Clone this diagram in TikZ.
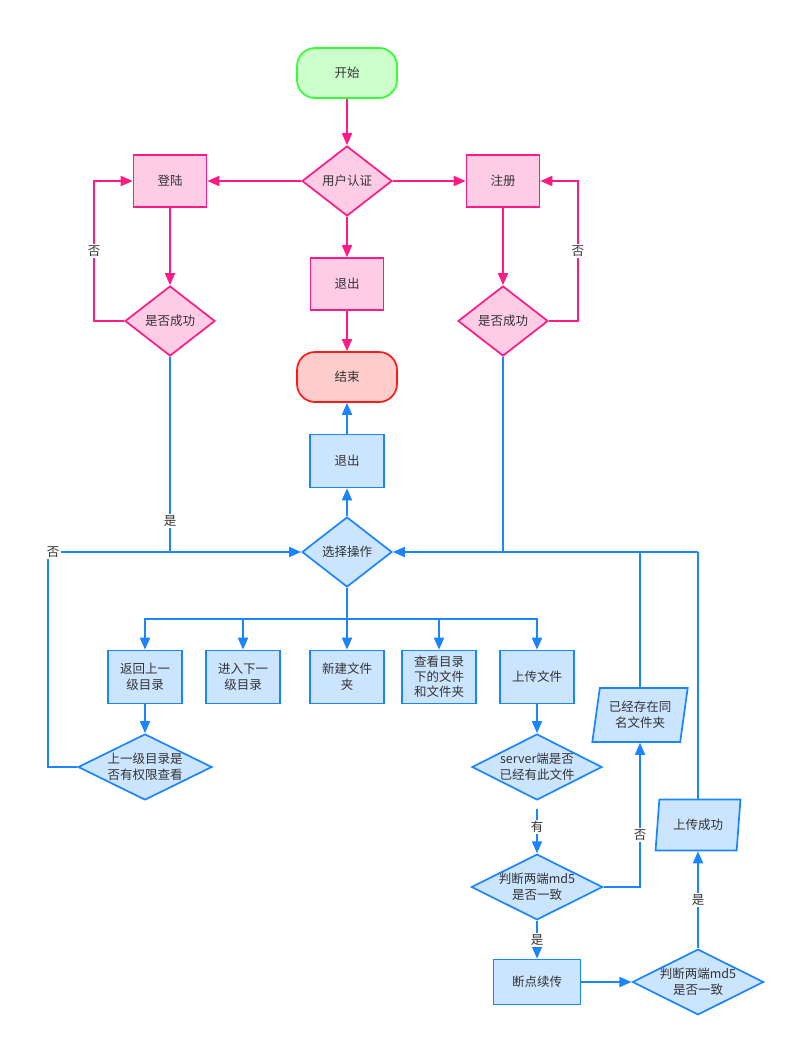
\documentclass[tikz,border=0pt]{standalone}
\usepackage{fontspec}
\setmainfont{Noto Sans CJK SC}
\usetikzlibrary{shapes.geometric,arrows.meta}
\definecolor{pkline}{HTML}{FF1A85}
\definecolor{pkfill}{HTML}{FFCCE6}
\definecolor{blline}{HTML}{1A85FF}
\definecolor{blfill}{HTML}{CCE5FF}
\definecolor{gnline}{HTML}{33FF33}
\definecolor{gnfill}{HTML}{CCFFCC}
\definecolor{rdline}{HTML}{FF1A1A}
\definecolor{rdfill}{HTML}{FFCCCC}
\definecolor{txt}{HTML}{333333}
\tikzset{
  every node/.style={font=\fontsize{12.5}{16}\selectfont, text=txt},
  pkbox/.style={draw=pkline, fill=pkfill, line width=1.7pt, minimum width=73, minimum height=52, inner sep=0},
  blbox/.style={draw=blline, fill=blfill, line width=1.7pt, minimum width=74, minimum height=53, inner sep=0, align=center},
  pkdia/.style={diamond, draw=pkline, fill=pkfill, line width=1.7pt, minimum width=90, minimum height=70, inner sep=0},
  bldia/.style={diamond, draw=blline, fill=blfill, line width=1.7pt, aspect=2, inner sep=0, align=center},
  blpar/.style={trapezium, trapezium left angle=78, trapezium right angle=102, trapezium stretches=true, draw=blline, fill=blfill, line width=1.7pt, inner sep=0, align=center},
  term/.style={rounded corners=18, line width=1.7pt, minimum width=100, minimum height=50},
  pk/.style={draw=pkline, line width=1.7pt, -{Triangle[length=12pt,width=10pt]}},
  bl/.style={draw=blline, line width=1.7pt, -{Triangle[length=12pt,width=10pt]}},
  blp/.style={draw=blline, line width=1.7pt},
  lbl/.style={fill=white, inner sep=1.5pt}
}
\begin{document}
\begin{tikzpicture}[x=1pt,y=-1pt]
  \useasboundingbox (0,0) rectangle (795,1047);
  % top part
  \node[term, draw=gnline, fill=gnfill] (start) at (347,73) {开始};
  \node[pkdia] (auth) at (347,181) {用户认证};
  \node[pkbox] (login) at (170,181) {登陆};
  \node[pkbox] (reg) at (503,181) {注册};
  \node[pkbox] (quit1) at (347,284) {退出};
  \node[pkdia] (ok1) at (170,321) {是否成功};
  \node[pkdia] (ok2) at (503,321) {是否成功};
  \node[term, draw=rdline, fill=rdfill] (end) at (347,377) {结束};

  \draw[pk] (start) -- (auth);
  \draw[pk] (auth) -- (login);
  \draw[pk] (auth) -- (reg);
  \draw[pk] (auth) -- (quit1);
  \draw[pk] (quit1) -- (end);
  \draw[pk] (login) -- (ok1);
  \draw[pk] (reg) -- (ok2);
  \draw[pk] (ok1.west) -- ++(-30,0) |- node[pos=0.25, lbl] {否} (login.west);
  \draw[pk] (ok2.east) -- ++(29,0) |- node[pos=0.25, lbl] {否} (reg.east);

  % file operations
  \node[blbox] (quit2) at (347,461) {退出};
  \node[bldia, minimum width=90, minimum height=70] (sel) at (347,552) {选择操作};
  \node[blbox] (back) at (145,677) {返回上一\\级目录};
  \node[blbox] (into) at (243,677) {进入下一\\级目录};
  \node[blbox] (mkdir) at (347,677) {新建文件\\夹};
  \node[blbox, font=\fontsize{12.5}{15}\selectfont] (list) at (439,677) {查看目录\\下的文件\\和文件夹};
  \node[blbox] (upl) at (537,677) {上传文件};
  \node[bldia, minimum width=134, minimum height=66] (perm) at (145,767) {上一级目录是\\否有权限查看};
  \node[bldia, minimum width=130, minimum height=66] (srv) at (537,767) {server端是否\\已经有此文件};
  \node[bldia, minimum width=128, minimum height=64] (md1) at (537,887) {判断两端md5\\是否一致};
  \node[blbox, minimum width=87, minimum height=45] (resume) at (537,982) {断点续传};
  \node[bldia, minimum width=127, minimum height=65] (md2) at (698,982) {判断两端md5\\是否一致};
  \node[blpar, minimum width=96, minimum height=54] (same) at (640,715) {已经存在同\\名文件夹};
  \node[blpar, minimum width=85, minimum height=51] (done) at (698,825) {上传成功};
  \coordinate (nl) at (48,552);
  \coordinate (nr) at (698,552);

  \draw[bl] (sel) -- (quit2);
  \draw[bl] (quit2) -- (end);
  \draw[blp] (ok1.south) -- node[pos=0.84, lbl] {是} (ok1 |- sel);
  \draw[blp] (ok2.south) -- (ok2 |- sel);
  \draw[blp] (perm.west) -| (nl);
  \draw[bl] (nl) -- (sel.west);
  \node[lbl] at (53,552) {否};
  \draw[blp] (done.north) -- (nr);
  \draw[blp] (same.north) -- (same |- sel);
  \draw[bl] (nr) -- (sel.east);
  \draw[blp] (sel.south) -- ++(0,31) coordinate (br);
  \foreach \b in {back,into,mkdir,list,upl}
    \draw[bl] (br) -| (\b.north);
  \draw[bl] (back) -- (perm);
  \draw[bl] (upl) -- (srv);
  \draw[bl, shorten <=8pt] (srv) -- node[lbl] {有} (md1);
  \draw[bl] (md1.east) -| node[pos=0.68, lbl] {否} (same.south);
  \draw[bl] (md1) -- node[lbl] {是} (resume);
  \draw[bl] (resume) -- (md2);
  \draw[bl] (md2) -- node[lbl] {是} (done);
\end{tikzpicture}
\end{document}
